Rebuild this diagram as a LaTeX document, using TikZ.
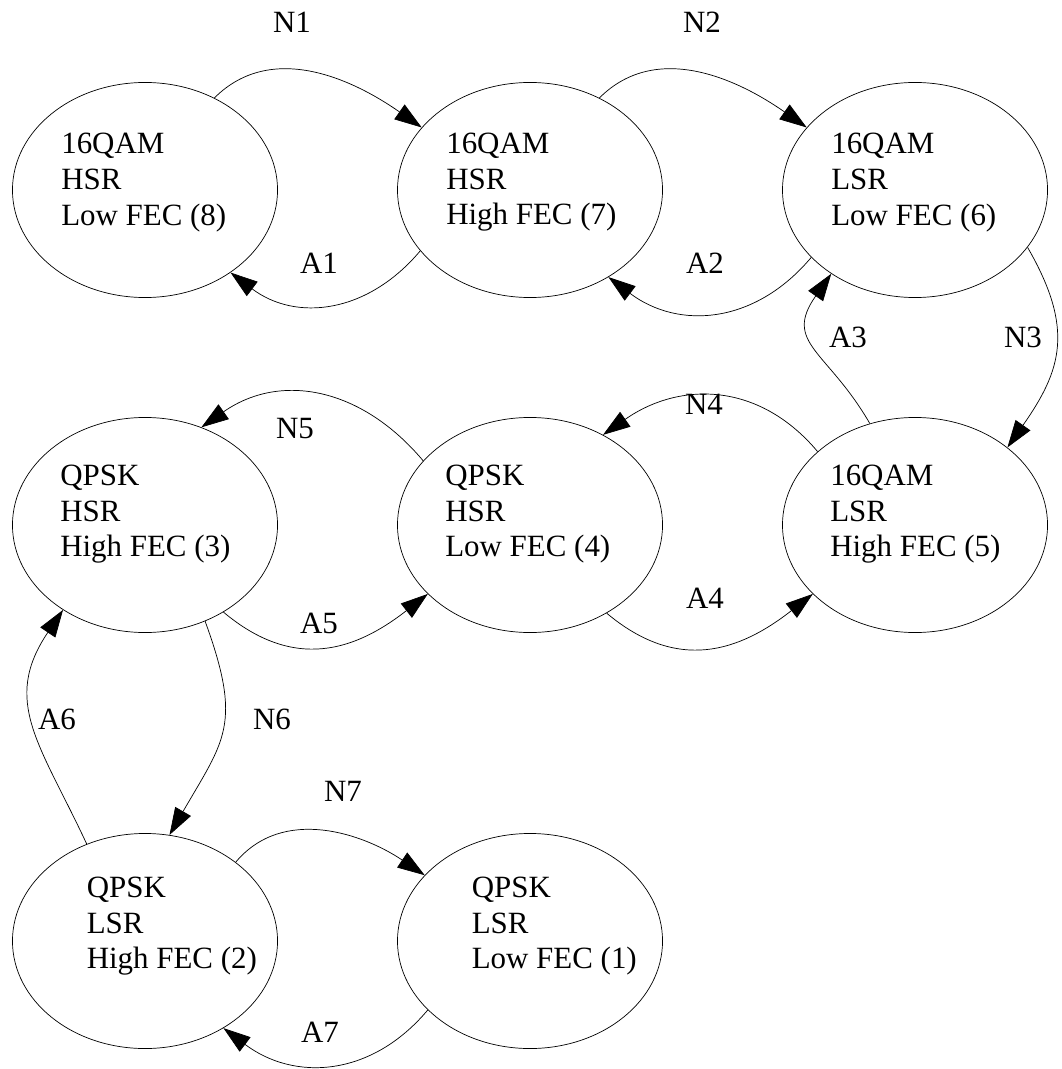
\documentclass[tikz,border=0pt]{standalone}
\usepackage{fontspec}
\setmainfont{Liberation Serif}
\usetikzlibrary{arrows.meta, shapes.geometric}

\begin{document}
\begin{tikzpicture}[x=0.025cm, y=0.025cm, font=\fontsize{22}{25.3}\selectfont,
    state/.style={draw, ellipse, line width=0.5pt, minimum width=6.625cm, minimum height=5.375cm, inner sep=0pt},
    stext/.style={anchor=west, align=left, inner sep=0pt},
    lbl/.style={inner sep=0pt},
    trans/.style={-{Triangle[length=0.68cm, width=0.45cm]}, line width=0.5pt}]
  \useasboundingbox (0,0) rectangle (1061,-1069);

  \node[state] (s8) at (145,-190) {};
  \node[state] (s7) at (530,-190) {};
  \node[state] (s6) at (915,-190) {};
  \node[state] (s3) at (145,-525) {};
  \node[state] (s4) at (530,-525) {};
  \node[state] (s5) at (915,-525) {};
  \node[state] (s2) at (145,-941) {};
  \node[state] (s1) at (530,-941) {};

  \node[stext] (t8) at ([shift={(-84,7.5)}]s8.center) {16QAM\\HSR\\Low FEC (8)};
  \node[stext] (t7) at ([shift={(-84,7.5)}]s7.center) {16QAM\\HSR\\High FEC (7)};
  \node[stext] (t6) at ([shift={(-84,7.5)}]s6.center) {16QAM\\LSR\\Low FEC (6)};
  \node[stext] (t3) at ([shift={(-85,10.6)}]s3.center) {QPSK\\HSR\\High FEC (3)};
  \node[stext] (t4) at ([shift={(-85,10.6)}]s4.center) {QPSK\\HSR\\Low FEC (4)};
  \node[stext] (t5) at ([shift={(-85,10.6)}]s5.center) {16QAM\\LSR\\High FEC (5)};
  \node[stext] (t2) at ([shift={(-58.5,14.8)}]s2.center) {QPSK\\LSR\\High FEC (2)};
  \node[stext] (t1) at ([shift={(-58.5,14.8)}]s1.center) {QPSK\\LSR\\Low FEC (1)};

  \draw[trans] (s8.53) to[out=45, in=145] (s7.150);
  \draw[trans] (s7.-151) to[out=230, in=-37, looseness=1.1] (s8.-44);
  \draw[trans] (s7.53) to[out=45, in=145] (s6.150);
  \draw[trans] (s6.-147) to[out=230, in=-37, looseness=1.1] (s7.-48);
  \draw[trans] (s6.-27) to[out=-60, in=55, looseness=1.2] (s5.40);
  \draw[trans] (s5.114) to[out=120, in=-125, looseness=1.4] (s6.-135);
  \draw[trans] (s5.143) to[out=130, in=35, looseness=1.1] (s4.51);
  \draw[trans] (s4.-49) to[out=-40, in=-142, looseness=1.15] (s5.-146);
  \draw[trans] (s4.149) to[out=130, in=35, looseness=1.1] (s3.60);
  \draw[trans] (s3.-48) to[out=-40, in=-142, looseness=1.15] (s4.-146);
  \draw[trans] (s3.-58) to[out=-70, in=60, looseness=1.3] (s2.77);
  \draw[trans] (s2.121) to[out=115, in=-124, looseness=1.2] (s3.-134);
  \draw[trans] (s2.41) to[out=50, in=146] (s1.148);
  \draw[trans] (s1.-146) to[out=230, in=-37, looseness=1.1] (s2.-48);

  \node[lbl] (n1) at (292,-22) {N1};
  \node[lbl] (a1) at (319,-263) {A1};
  \node[lbl] (n2) at (702,-22) {N2};
  \node[lbl] (a2) at (705,-263) {A2};
  \node[lbl] (n3) at (1023,-337) {N3};
  \node[lbl] (a3) at (848,-337) {A3};
  \node[lbl] (n4) at (704,-404) {N4};
  \node[lbl] (a4) at (705,-598) {A4};
  \node[lbl] (n5) at (295,-429) {N5};
  \node[lbl] (a5) at (319,-623) {A5};
  \node[lbl] (n6) at (272,-719) {N6};
  \node[lbl] (a6) at (57,-719) {A6};
  \node[lbl] (n7) at (343,-791) {N7};
  \node[lbl] (a7) at (320,-1032) {A7};
\end{tikzpicture}
\end{document}
